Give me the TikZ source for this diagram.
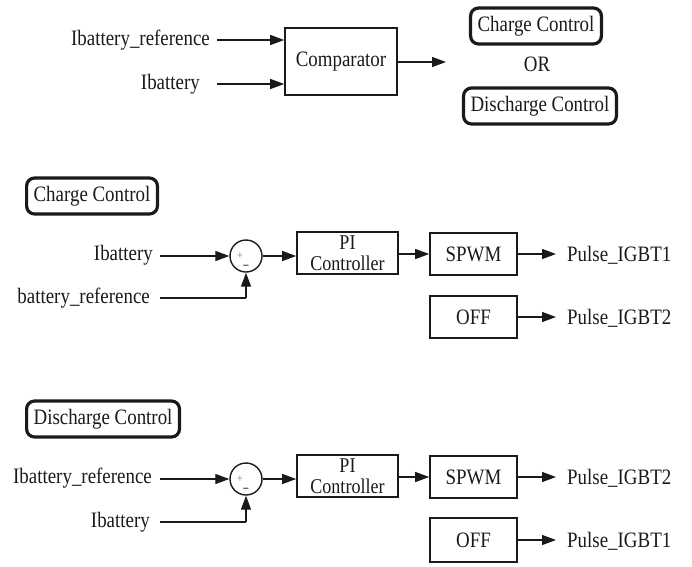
\documentclass[tikz,border=0pt]{standalone}
\usepackage{fontspec}
\setmainfont{Liberation Serif}[FakeStretch=0.86]
\newfontfamily\diagfont{Liberation Serif}[FakeStretch=0.86]
\usetikzlibrary{arrows.meta,calc}
\definecolor{ink}{HTML}{1A1A1A}
\begin{document}
\begin{tikzpicture}[x=1pt,y=-1pt,
  every node/.style={font=\diagfont\fontsize{22}{23}\selectfont, text=ink},
  lbl/.style={inner sep=0pt},
  blk/.style={draw=ink, line width=1.6pt, minimum width=#1, inner sep=0pt},
  rbox/.style={draw=ink, line width=3.2pt, rounded corners=8pt, inner xsep=7pt, inner ysep=8pt},
  sumc/.style={draw=ink, line width=1.4pt, circle, minimum size=32pt, inner sep=0pt},
  arr/.style={draw=ink, line width=1.3pt, -{Triangle[length=14pt,width=10pt]}},
  ln/.style={draw=ink, line width=1.3pt}]
\useasboundingbox (0,0) rectangle (692,566);
% ---------- top ----------
\node[blk=112pt, minimum height=67pt] (cmp) at (341,61.5) {Comparator};
\node[lbl, anchor=east] (ir) at (210,40) {Ibattery\_reference};
\node[lbl, anchor=east] (ib) at (200,84) {Ibattery};
\coordinate (ira) at (217,40);
\coordinate (iba) at (217,84);
\draw[arr] (ira) -- (cmp.west |- ira);
\draw[arr] (iba) -- (cmp.west |- iba);
\coordinate (cmpout) at (446,62);
\draw[arr] (cmp.east |- cmpout) -- (cmpout);
\node[rbox] (cc1) at (536,26) {Charge Control};
\node[lbl] (or) at (537,64) {OR};
\node[rbox] (dc1) at (540,106) {Discharge Control};
% ---------- charge control ----------
\node[rbox, anchor=west] (cc2) at (25,196) {Charge Control};
\node[lbl, anchor=east] (ib2) at (153,255) {Ibattery};
\node[lbl, anchor=east] (br2) at (150,298) {battery\_reference};
\node[sumc] (s2) at (246,256) {};
\node[font=\fontsize{12}{12}\selectfont, text=gray] (p2) at ($(s2)+(-6,0)$) {+};
\node[font=\fontsize{12}{12}\selectfont, text=ink, inner sep=0pt] (m2) at (246,267) {\textbf{--}};
\node[blk=101pt, minimum height=42pt, align=center, font=\diagfont\fontsize{21}{21}\selectfont] (pi2) at (347.5,253) {PI\\Controller};
\node[blk=87pt, minimum height=42pt] (sp2) at (473.5,254) {SPWM};
\node[blk=87pt, minimum height=42pt] (off2) at (473.5,317) {OFF};
\node[lbl, anchor=west] (o21) at (567,255) {Pulse\_IGBT1};
\node[lbl, anchor=west] (o22) at (567,318) {Pulse\_IGBT2};
\coordinate (e21) at (556,254);
\coordinate (e22) at (556,317);
\coordinate (a2) at (160,256);
\coordinate (b2) at (160,298);
\draw[arr] (a2) -- (s2.west);
\draw[ln] (b2) -- (s2.south |- b2);
\draw[arr] (s2.south |- b2) -- (s2.south);
\draw[arr] (s2.east) -- (pi2.west |- s2.east);
\draw[arr] (pi2.east |- sp2.west) -- (sp2.west);
\draw[arr] (sp2.east) -- (e21);
\draw[arr] (off2.east) -- (e22);
% ---------- discharge control ----------
\node[rbox, anchor=west] (dc2) at (25,419) {Discharge Control};
\node[lbl, anchor=east] (ir3) at (152,478) {Ibattery\_reference};
\node[lbl, anchor=east] (ib3) at (150,522) {Ibattery};
\node[sumc] (s3) at (246,479) {};
\node[font=\fontsize{12}{12}\selectfont, text=gray] (p3) at ($(s3)+(-6,0)$) {+};
\node[font=\fontsize{12}{12}\selectfont, text=ink, inner sep=0pt] (m3) at (246,490) {\textbf{--}};
\node[blk=101pt, minimum height=42pt, align=center, font=\diagfont\fontsize{21}{21}\selectfont] (pi3) at (347.5,476) {PI\\Controller};
\node[blk=87pt, minimum height=42pt] (sp3) at (473.5,477) {SPWM};
\node[blk=87pt, minimum height=44pt] (off3) at (473.5,540) {OFF};
\node[lbl, anchor=west] (o31) at (567,478) {Pulse\_IGBT2};
\node[lbl, anchor=west] (o32) at (567,541) {Pulse\_IGBT1};
\coordinate (e31) at (556,477);
\coordinate (e32) at (556,540);
\coordinate (a3) at (160,479);
\coordinate (b3) at (160,522);
\draw[arr] (a3) -- (s3.west);
\draw[ln] (b3) -- (s3.south |- b3);
\draw[arr] (s3.south |- b3) -- (s3.south);
\draw[arr] (s3.east) -- (pi3.west |- s3.east);
\draw[arr] (pi3.east |- sp3.west) -- (sp3.west);
\draw[arr] (sp3.east) -- (e31);
\draw[arr] (off3.east) -- (e32);
\end{tikzpicture}
\end{document}
